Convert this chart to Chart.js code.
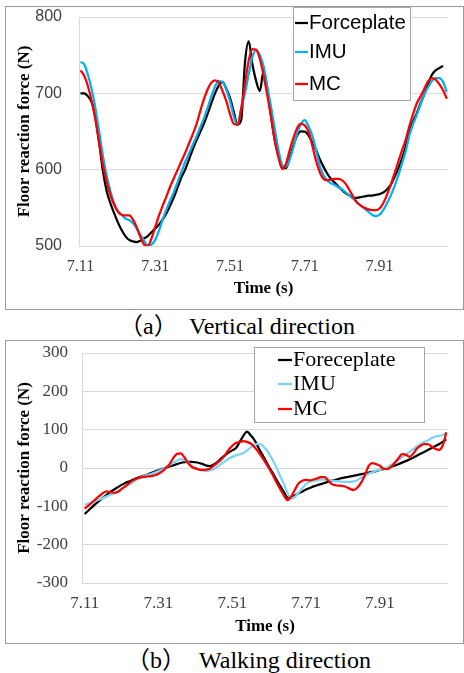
<!DOCTYPE html>
<html><head><meta charset="utf-8">
<script src="https://cdn.jsdelivr.net/npm/chart.js@4/dist/chart.umd.min.js"></script>
<style>
html,body{margin:0;padding:0;background:#fff;}
body{width:464px;height:673px;position:relative;overflow:hidden;}
.frame{position:absolute;left:5px;width:457px;height:302px;border:1px solid #9a9a9a;background:#fff;}
.frame canvas{display:block;}
.cap{position:absolute;font-family:"Liberation Serif","Noto Sans CJK JP",serif;font-size:24px;line-height:24px;color:#000;white-space:pre;}
</style></head><body>
<div class="frame" style="top:6px"><canvas id="c1" width="457" height="302"></canvas></div>
<div class="frame" style="top:340px"><canvas id="c2" width="457" height="302"></canvas></div>
<span class="cap" style="left:119px;top:314px">（a）</span>
<span class="cap" style="left:189px;top:314px">Vertical direction</span>
<span class="cap" style="left:126px;top:648px">（b）</span>
<span class="cap" style="left:199px;top:648px">Walking direction</span>
<script>
// ---- data ----
const times = [7.11,7.12,7.13,7.14,7.15,7.16,7.17,7.18,7.19,7.20,
7.21,7.22,7.23,7.24,7.25,7.26,7.27,7.28,7.29,7.30,
7.31,7.32,7.33,7.34,7.35,7.36,7.37,7.38,7.39,7.40,
7.41,7.42,7.43,7.44,7.45,7.46,7.47,7.48,7.49,7.50,
7.51,7.52,7.53,7.54,7.55,7.56,7.57,7.58,7.59,7.60,
7.61,7.62,7.63,7.64,7.65,7.66,7.67,7.68,7.69,7.70,
7.71,7.72,7.73,7.74,7.75,7.76,7.77,7.78,7.79,7.80,
7.81,7.82,7.83,7.84,7.85,7.86,7.87,7.88,7.89,7.90,
7.91,7.92,7.93,7.94,7.95,7.96,7.97,7.98,7.99,8.00,
8.01,8.02,8.03,8.04,8.05,8.06,8.07,8.08,8.09];

const xTickValues = [7.11, 7.31, 7.51, 7.71, 7.91];
const topLabels = ['Forceplate', 'IMU', 'MC'];
const botLabels = ['Foreceplate', 'IMU', 'MC'];

// (a) vertical direction (N)
const topForce = [700,700,696,688,668,635,598,572,556,543,
531,521,513,508,506,505,507,510,513,518,
523,528,535,543,553,564,577,590,600,613,
626,638,649,660,673,687,700,710,715,706,
694,676,659,665,740,768,738,716,703,730,
705,670,638,618,602,602,616,632,645,650,
650,645,636,626,614,604,595,588,583,578,
573,569,566,563,563,564,565,566,566,567,
568,570,574,580,590,601,614,630,649,663,
674,687,699,712,724,730,733,736,null];
const topIMU = [741,738,724,705,680,650,618,592,572,556,
546,541,536,534,530,523,515,507,501,502,
508,520,535,548,560,571,584,597,610,621,
632,643,655,667,681,696,709,716,715,705,
690,670,658,680,700,725,748,757,750,735,
708,682,653,625,606,604,614,630,648,660,
665,657,645,626,605,593,586,582,580,577,
574,570,566,562,557,553,549,545,541,539,
541,547,556,566,578,592,608,624,645,660,
672,686,699,708,716,720,720,715,702];
const topMC = [730,723,709,690,665,635,606,584,567,554,
545,541,540,540,535,525,512,502,500,510,
525,540,553,565,578,589,600,611,622,634,
646,659,676,692,705,714,717,714,703,690,
673,660,659,680,712,743,758,757,745,723,
697,668,638,615,601,608,626,642,655,660,
658,650,632,612,597,588,586,587,588,588,
586,581,573,564,557,553,550,548,547,547,
549,556,567,580,595,610,625,639,657,673,
687,696,706,716,720,718,712,704,693];

// (b) walking direction (N)
const botForce = [-120,-111,-102,-93,-85,-77,-70,-62,-56,-50,
-44,-39,-35,-31,-27,-23,-20,-17,-13,-9,
-6,-2,1,4,7,10,13,15,16,16,
15,13,10,6,5,9,16,25,33,40,
46,52,68,84,95,85,73,55,37,20,
2,-14,-31,-47,-63,-77,-75,-71,-66,-61,
-56,-52,-48,-45,-42,-39,-36,-33,-31,-28,
-26,-24,-22,-20,-18,-16,-14,-12,-10,-8,
-5,-3,0,3,6,10,14,18,22,27,
32,37,42,47,52,57,62,68,75];
const botIMU = [-96,-93,-89,-86,-82,-78,-74,-70,-66,-60,
-54,-48,-43,-37,-31,-25,-21,-18,-16,-12,
-8,-3,2,8,14,19,23,21,15,7,
0,-4,-7,-8,-6,-3,4,11,17,24,
29,33,36,39,46,54,61,63,60,50,
37,20,1,-22,-42,-66,-79,-75,-64,-52,
-42,-36,-34,-32,-30,-30,-31,-33,-34,-35,
-36,-36,-36,-35,-31,-25,-20,-15,-11,-7,
-5,-3,2,8,14,21,28,35,42,49,
56,63,68,72,78,82,84,86,92];
const botMC = [-106,-98,-90,-81,-73,-65,-61,-63,-65,-62,
-55,-48,-40,-33,-28,-25,-23,-22,-21,-19,
-15,-9,0,10,26,37,38,28,13,3,
-1,-4,-5,-4,-1,6,14,22,33,47,
58,65,68,70,68,64,55,43,29,14,
-2,-19,-38,-55,-72,-84,-74,-56,-40,-33,
-31,-32,-30,-27,-24,-24,-33,-42,-45,-46,
-47,-50,-55,-57,-50,-37,-17,6,13,10,
6,-2,-3,3,13,25,36,35,29,37,
50,58,62,62,56,50,47,58,93];

// ---- helpers ----
function pts(arr){ return arr.map((v,i)=>({x: times[i], y: v})); }

const legendBox = {
  id: 'legendBox',
  afterDatasetsDraw(chart, args, o) {
    const ctx = chart.ctx;
    ctx.save();
    ctx.fillStyle = '#fff';
    ctx.fillRect(o.x, o.y, o.w, o.h);
    ctx.strokeStyle = o.border; ctx.lineWidth = 1;
    ctx.strokeRect(o.x + 0.5, o.y + 0.5, o.w, o.h);
    ctx.font = o.font; ctx.textBaseline = 'middle'; ctx.textAlign = 'left';
    o.items.forEach((idx, r) => {
      const d = chart.data.datasets[idx];
      const y = o.rows[r];
      ctx.strokeStyle = d.borderColor; ctx.lineWidth = o.lw;
      ctx.beginPath(); ctx.moveTo(o.mx0, y); ctx.lineTo(o.mx1, y); ctx.stroke();
      ctx.fillStyle = '#000';
      ctx.fillText(d.label, o.tx, y);
    });
    ctx.restore();
  }
};

function build(id, cfg) {
  const serif = 'Liberation Serif';
  return new Chart(document.getElementById(id), {
    type: 'line',
    data: {
      datasets: [
        {label: cfg.labels[0], data: pts(cfg.series[0]), borderColor: '#000000', borderWidth: cfg.lw, order: 2},
        {label: cfg.labels[1], data: pts(cfg.series[1]), borderColor: cfg.imuColor, borderWidth: cfg.lw, order: 1},
        {label: cfg.labels[2], data: pts(cfg.series[2]), borderColor: '#ff0000', borderWidth: cfg.lw, order: 0}
      ]
    },
    options: {
      responsive: false,
      animation: false,
      devicePixelRatio: 1,
      layout: {padding: {left: 0, right: 15, top: cfg.padTop, bottom: 0}},
      elements: {point: {radius: 0}, line: {cubicInterpolationMode: 'monotone', fill: false}},
      plugins: {legend: {display: false}, tooltip: {enabled: false}, legendBox: cfg.legend},
      scales: {
        x: {
          type: 'linear', min: cfg.xmin, max: cfg.xmax,
          afterBuildTicks: (s) => { s.ticks = xTickValues.map(v => ({value: v})); },
          afterFit: (s) => { s.height = cfg.xh; },
          grid: {display: false, drawTicks: false},
          border: {display: false},
          ticks: {autoSkip: false, maxRotation: 0, padding: cfg.xpad, color: '#404040',
                  font: {family: serif, size: cfg.xfs}, callback: (v) => Number(v).toFixed(2)},
          title: {display: true, text: 'Time (s)', color: '#000',
                  font: {family: serif, size: 17, weight: 'bold'}, padding: {top: 0, bottom: cfg.xtpad}}
        },
        y: {
          min: cfg.ymin, max: cfg.ymax,
          afterFit: (s) => { s.width = cfg.yw; },
          grid: {color: '#d9d9d9', lineWidth: 1, drawTicks: true, tickLength: cfg.ypad, tickColor: 'rgba(0,0,0,0)'},
          border: {display: true, color: '#d9d9d9'},
          ticks: {stepSize: 100, padding: 0, color: '#404040', font: cfg.yfont},
          title: {display: true, text: 'Floor reaction force (N)', color: '#000',
                  font: {family: serif, size: 17, weight: 'bold'}, padding: {top: 8, bottom: 0}}
        }
      }
    },
    plugins: [legendBox]
  });
}

build('c1', {
  labels: topLabels, series: [topForce, topIMU, topMC], imuColor: '#00b0f0', lw: 2.25,
  padTop: 10, xmin: 7.106, xmax: 8.0933, xh: 63, xpad: 11, xfs: 16, xtpad: 10,
  ymin: 500, ymax: 800, yw: 73, ypad: 17, yfont: {family: 'Liberation Sans', size: 16},
  legend: {x: 287, y: 0, w: 117, h: 93, border: '#a6a6a6', rows: [16, 45, 77], items: [0,1,2],
           mx0: 289, mx1: 302, tx: 303, lw: 2.25, font: '20.5px "Liberation Sans"'}
});
build('c2', {
  labels: botLabels, series: [botForce, botIMU, botMC], imuColor: '#7dd3f7', lw: 2.25,
  padTop: 12, xmin: 7.1027, xmax: 8.0946, xh: 60, xpad: 10, xfs: 17, xtpad: 6,
  ymin: -300, ymax: 300, yw: 76, ypad: 14, yfont: {family: 'Liberation Serif', size: 17},
  legend: {x: 248, y: 6, w: 170, h: 75, border: '#a6a6a6', rows: [19, 43, 68], items: [0,1,2],
           mx0: 272, mx1: 286, tx: 287, lw: 2.25, font: '22px "Liberation Serif"'}
});
</script>
</body></html>
